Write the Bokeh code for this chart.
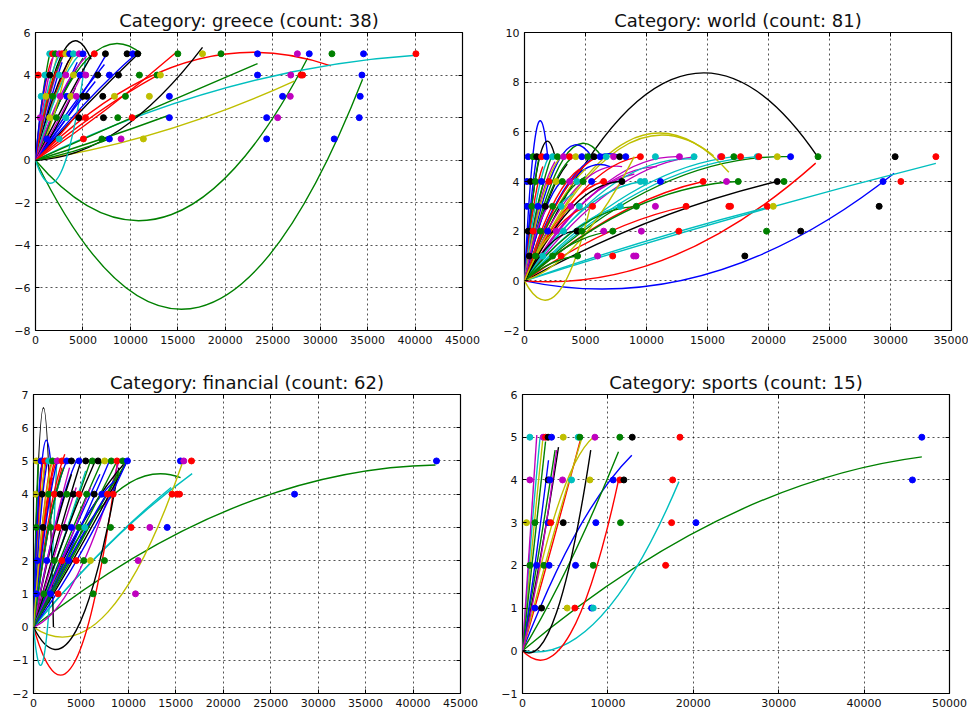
from bokeh.plotting import figure
from bokeh.layouts import column, row
from bokeh.models import LinearAxis, FixedTicker, ColumnDataSource, Range1d
from bokeh.embed import file_html
from bokeh.resources import INLINE

PALETTE = {"b": "#0000ff", "g": "#008000", "r": "#ff0000", "c": "#00bfbf",
           "m": "#bf00bf", "y": "#bfbf00", "k": "#000000"}

# ---------------- greece ----------------
greece_curve_end_x = [34470, 28680, 31130, 40090, 27270, 23400, 17600, 15000, 12880, 10780, 10600, 7500,
                      7265, 5300, 5860, 11130, 14000,
                      1500, 1800, 2000, 2300, 2600, 2800, 3000, 3300, 3500, 3800, 4100, 4400, 4700, 5000,
                      5400, 2200, 3100, 4200, 6300, 6000, 5100, 1200, 4800, 7800]
greece_curve_end_y = [3.8, 4.8, 4.43, 4.93, 3.72, 4.54, 5.3, 5.13, 4.0, 4.98, 5.0, 5.0,
                      4.5, 4.8, 4.74, 5.0, 2.1,
                      5.0, 4.8, 5.1, 4.9, 5.0, 4.6, 5.0, 5.2, 4.7, 4.9, 5.0, 4.6, 5.0, 4.8,
                      4.9, 4.2, 4.0, 3.4, 3.7, 5.0, 4.2, 4.0, 2.4, 1.0]
greece_curve_mid_y = [-6.9, -2.55, 4.55, 3.4, 1.4, 2.3, 1.4, 2.4, 2.2, 2.6, 2.7, 2.3,
                      2.4, -0.6, 5.1, 4.8, 1.0,
                      3.0, 3.2, 3.0, 2.8, 3.3, 2.5, 3.0, 3.4, 2.6, 3.0, 2.9, 2.4, 3.2, 2.7,
                      3.1, 2.6, 1.6, 1.5, 1.9, 2.6, 2.0, 2.5, 1.1, 0.4]
greece_curve_color = "ggrcygkrrkbbbckgg" + "grmycbmgrkybcgmrykbkmbrg"
greece_point_x = [1500, 1800, 2100, 2500, 2800, 3200, 3600, 4000, 4600, 5000, 6200, 7370, 9650, 10250, 10780,
                  15000, 17600, 19550, 23400, 27600, 28850, 31240, 34570, 40090,
                  300, 1000, 1500, 2500, 3200, 4000, 4700, 5300, 6560, 7790, 8740, 10950, 12810, 13160,
                  23400, 26900, 27970, 28150, 34400,
                  600, 1100, 1800, 2600, 3300, 3700, 4300, 5000, 5400, 7090, 8320, 9480, 12000, 14110,
                  26040, 26850, 34220,
                  500, 1500, 2200, 3200, 4560, 5270, 7160, 8670, 10180, 14110, 24360, 25520, 34120,
                  1200, 2500, 5050, 6990, 7790, 9020, 11370, 24360, 31480]
greece_point_y = [5] * 24 + [4] * 19 + [3] * 17 + [2] * 13 + [1] * 9
greece_point_color = ("crgmrybcmbrkkbkgygbmbgbr" + "rckcmybmkbkggybmrrb" + "cygmbymkkkygybbmb"
                      + "mygckrkgrbbmb" + "bcrgbmybb")

# ---------------- world ----------------
world_curve_end_x = [24060, 30300, 23870, 33720, 19900, 20720, 21680, 17160, 16750, 15500, 1900, 6370, 2500,
                     1200, 1600, 800, 2200, 10860, 12700, 9000, 8000, 14100, 8000, 7000, 5500,
                     9500, 6490, 13250, 14640, 5580, 14000, 9850, 7850, 19080, 5000, 4000, 9000, 5400,
                     17500, 9170, 7230, 4350, 4300, 7990,
                     1000, 1500, 2000, 2500, 3000, 3500, 4000, 4500, 3000, 2000, 4000, 5000, 6000, 2600]
world_curve_end_y = [4.97, 4.33, 4.74, 4.73, 2.96, 4.0, 5.0, 5.0, 4.37, 5.04, 5.0, 4.97, 5.0,
                     5.0, 4.0, 3.0, 5.0, 4.6, 5.0, 4.3, 4.6, 5.0, 5.0, 4.6, 5.0,
                     5.0, 4.0, 3.0, 4.0, 3.0, 4.9, 4.0, 3.0, 5.0, 4.5, 3.0, 5.0, 3.0,
                     4.0, 3.0, 2.0, 1.0, 2.0, 4.0,
                     5.0, 4.6, 5.0, 4.8, 5.0, 4.7, 5.0, 4.5, 4.0, 3.0, 3.5, 4.2, 5.0, 2.0]
world_curve_mid_y = [8.1, 0.3, 0.95, 2.5, 1.6, 2.4, 3.8, 3.5, 5.6, 5.3, 6.0, 4.9, 5.0,
                     3.0, 2.4, 2.0, 3.0, 3.4, 3.8, 3.0, 3.6, 3.6, 4.2, 3.8, 4.8,
                     3.6, 2.8, 1.9, 2.6, 2.2, 3.8, 2.9, 2.0, 3.6, 2.8, 2.0, 1.6, -0.5,
                     2.9, 2.2, 1.4, 0.7, 1.5, 3.0,
                     3.0, 3.0, 3.3, 3.1, 3.4, 3.0, 3.4, 3.0, 2.6, 2.0, 2.4, 2.8, 3.4, 1.3]
world_curve_color = ("kbrcckgcyybgk" + "ggggmmmmmbbb" + "rrrrrccccyyyy" + "ggggkk"
                     + "brcmykgrbmcgry")
world_point_x = [300, 700, 1000, 1400, 1800, 2300, 2700, 3200, 3700, 4200, 4700, 5200, 5700, 6200, 6700,
                 7300, 7800, 8300, 9500, 10730, 12700, 13900, 16070, 16170, 17160, 17710, 19080, 19210,
                 20720, 21810, 24060, 30380, 33720,
                 200, 500, 900, 1400, 2000, 2600, 3100, 3700, 4300, 4800, 5500, 6490, 7990, 9500, 9850,
                 11140, 14640, 16560, 17520, 20720, 21270, 29390, 30850,
                 200, 600, 1100, 1700, 2300, 3000, 3800, 4500, 5580, 7850, 9170, 10730, 13250, 16750,
                 16890, 19900, 20390, 29070,
                 300, 700, 1300, 1900, 2600, 3200, 4300, 4700, 6490, 7230, 9580, 12650, 19840, 22640,
                 400, 900, 1500, 2300, 3000, 4350, 5990, 7230, 8950, 9140, 18060]
world_point_y = [5] * 33 + [4] * 23 + [3] * 18 + [2] * 14 + [1] * 11
world_point_color = ("bgkrbcgmrybgkbcmkbrcmcmrgrcrybgkr" + "bkgbrygmcgbrkccbrmgkgbr"
                     + "bgbkgcmcrcgmrrrryk" + "krgbmckgmgmrgk" + "kgcgrgmrmmk")

# ---------------- financial ----------------
fin_curve_end_x = [42370, 15500, 16720, 14500, 15670, 8860, 9000, 2100, 1800, 2450, 9000,
                   9870, 9870, 9870, 9500, 9000, 8500, 7700,
                   1000, 1400, 1800, 2200, 2600, 3000, 3300, 2000, 1600, 1200, 500, 800, 1500, 2500,
                   3500, 4500, 4000, 5000, 6000, 5500, 4500, 3800, 6500, 7200, 7000, 2800, 3200, 6000,
                   8000, 8800, 2000]
fin_curve_end_y = [4.88, 4.5, 4.62, 4.2, 4.92, 5.0, 4.8, 0.0, 5.0, 5.0, 5.0,
                   5.0, 5.0, 5.0, 4.9, 4.7, 4.4, 4.0,
                   5.0, 5.1, 4.9, 5.0, 5.1, 4.8, 5.2, 4.5, 4.0, 5.0, 5.0, 4.8, 5.0, 5.0,
                   5.0, 5.0, 4.6, 5.0, 5.0, 4.7, 4.2, 4.8, 5.0, 5.0, 4.6, 4.4, 4.8, 4.2,
                   5.0, 5.0, 5.0]
fin_curve_mid_y = [3.6, 3.8, 2.6, 2.3, 0.45, -1.0, -0.1, 6.6, 5.0, -0.66, 1.5,
                   2.4, 2.6, 2.2, 2.9, 2.3, 2.7, 2.1,
                   3.2, 3.4, 3.0, 3.1, 3.5, 2.8, 3.3, 2.6, 2.5, 3.0, 3.0, 3.2, 3.3, 3.0,
                   3.2, 3.0, 2.6, 2.6, 2.5, 2.3, 2.2, 2.6, 2.7, 2.6, 2.4, 2.7, 3.0, 2.0,
                   2.4, 2.5, 3.2]
fin_curve_color = ("ggccyrkkbcm" + "kgbkgbb" + "rrrrrrrrrygbbb" + "bbkkgcmmkgbcgm" + "bgy")
fin_point_x = [300, 800, 1200, 1600, 2000, 2500, 3000, 3500, 4000, 4800, 5500, 6200, 6800, 7500, 8200,
               8800, 9400, 9900, 15490, 15840, 16650, 42470,
               200, 900, 1600, 2200, 2800, 3500, 4200, 4800, 5600, 6400, 7200, 7800, 8400, 14610, 15140,
               15390, 27510,
               300, 1000, 1800, 2600, 3300, 4000, 4800, 5400, 8120, 10290, 12260, 14090,
               400, 1400, 2200, 3000, 3700, 4500, 5300, 6000, 7480, 11030,
               300, 1100, 1800, 2600, 6290, 10750]
fin_point_y = [5] * 22 + [4] * 17 + [3] * 12 + [2] * 10 + [1] * 6
fin_point_color = ("ybrcgmrbkbkgkygrgbbmrb" + "ykgrkgkrgkbrrrrrb" + "gkgrkbgcgrmb" + "bbgrbrgygm"
                   + "bgbrgm")

# ---------------- sports ----------------
sports_curve_end_x = [46760, 18320, 11210, 12800, 11240, 7990, 8290, 6740, 6900, 4215, 3820, 3045, 2400,
                      2060, 1675, 2700, 4000]
sports_curve_end_y = [4.54, 3.96, 3.96, 4.58, 4.66, 4.7, 5.0, 4.91, 4.95, 4.77, 4.7, 4.46, 5.0,
                      5.0, 5.05, 4.9, 4.7]
sports_curve_mid_y = [3.1, 0.8, 0.4, 2.8, 2.1, 0.9, 3.4, 2.4, 2.6, 2.2, 2.3, 2.1, 2.6,
                      2.7, 2.5, 2.4, 2.0]
sports_curve_color = "gcrbgkyrykgbycmgm"
sports_point_x = [860, 2420, 2700, 3000, 3400, 4770, 6520, 6720, 8480, 11400, 12850, 18440, 46760,
                  860, 3000, 3200, 4690, 5740, 7890, 10620, 11400, 11870, 17580, 45660,
                  470, 1450, 3000, 3300, 4770, 8590, 11480, 17460, 20310,
                  860, 1640, 2500, 3120, 6210, 8280, 16760,
                  1450, 2230, 5230, 6130, 8090, 8280]
sports_point_y = [5] * 13 + [4] * 11 + [3] * 9 + [2] * 7 + [1] * 6
sports_point_color = "cmrkbycgmgkrb" + "mkbmcybrkrb" + "ygbrkbgrb" + "gbgbbgr" + "bkyrbc"


def minus(v):
    return ("\u2212" + str(abs(v))) if v < 0 else str(v)


def make_panel(title, xr, yr, xticks, yticks, ex, ey, my, ccol, px, py, pcol,
               bl, br, bt, bb, fh):
    p = figure(frame_width=427, frame_height=fh, x_range=Range1d(*xr), y_range=Range1d(*yr),
               output_backend="svg", toolbar_location=None,
               min_border_left=bl, min_border_right=br, min_border_top=bt, min_border_bottom=bb,
               background_fill_color="white", border_fill_color="white")
    p.title.text = title
    p.title.align = "center"
    p.title.text_font = "DejaVu Sans"
    p.title.text_font_size = "18px"
    p.title.text_font_style = "normal"
    p.title.text_color = "#111111"
    p.title.standoff = 4
    p.outline_line_color = "black"
    p.outline_line_width = 1.2
    p.outline_line_alpha = 1.0

    for ax, ticks in ((p.xaxis[0], xticks), (p.yaxis[0], yticks)):
        ax.ticker = FixedTicker(ticks=ticks)
        ax.major_tick_in = 4
        ax.major_tick_out = 0
        ax.minor_tick_line_color = None
        ax.axis_line_color = None
        ax.major_tick_line_color = "black"
        ax.major_label_text_font = "DejaVu Sans"
        ax.major_label_text_font_size = "11px"
        ax.major_label_text_color = "#111111"
        ax.major_label_standoff = 5
        ax.major_label_overrides = {t: minus(t) for t in ticks}
    for ticks, side in ((xticks, "above"), (yticks, "right")):
        ax2 = LinearAxis(ticker=FixedTicker(ticks=ticks), major_tick_in=4, major_tick_out=0,
                         minor_tick_line_color=None, axis_line_color=None,
                         major_label_text_color=None, major_label_text_font_size="1px",
                         major_label_standoff=0)
        p.add_layout(ax2, side)

    p.xgrid.ticker = FixedTicker(ticks=xticks)
    p.ygrid.ticker = FixedTicker(ticks=yticks)
    for g in (p.xgrid[0], p.ygrid[0]):
        g.grid_line_color = "black"
        g.grid_line_dash = "2 3"
        g.grid_line_width = 0.8
        g.grid_line_alpha = 0.85

    src = ColumnDataSource(dict(
        x0=[0] * len(ex), y0=[0] * len(ex), x1=ex, y1=ey,
        cx=[v / 2 for v in ex],
        cy=[2 * m - e / 2 for m, e in zip(my, ey)],
        color=[PALETTE[c] for c in ccol]))
    p.quadratic(x0="x0", y0="y0", x1="x1", y1="y1", cx="cx", cy="cy",
                line_color="color", line_width=1.4, source=src)

    psrc = ColumnDataSource(dict(x=px, y=py, color=[PALETTE[c] for c in pcol]))
    p.scatter(x="x", y="y", size=6, fill_color="color", line_color="color", source=psrc)
    return p


p1 = make_panel("Category: greece (count: 38)", (0, 45000), (-8, 6),
                list(range(0, 45001, 5000)), list(range(-8, 7, 2)),
                greece_curve_end_x, greece_curve_end_y, greece_curve_mid_y, greece_curve_color,
                greece_point_x, greece_point_y, greece_point_color, 35, 22, 32, 28, 298)
p2 = make_panel("Category: world (count: 81)", (0, 35000), (-2, 10),
                list(range(0, 35001, 5000)), list(range(-2, 11, 2)),
                world_curve_end_x, world_curve_end_y, world_curve_mid_y, world_curve_color,
                world_point_x, world_point_y, world_point_color, 40, 17, 32, 28, 298)
p3 = make_panel("Category: financial (count: 62)", (0, 45000), (-2, 7),
                list(range(0, 45001, 5000)), list(range(-2, 8, 1)),
                fin_curve_end_x, fin_curve_end_y, fin_curve_mid_y, fin_curve_color,
                fin_point_x, fin_point_y, fin_point_color, 33, 24, 36, 23, 299)
p4 = make_panel("Category: sports (count: 15)", (0, 50000), (-1, 6),
                list(range(0, 50001, 10000)), list(range(-1, 7, 1)),
                sports_curve_end_x, sports_curve_end_y, sports_curve_mid_y, sports_curve_color,
                sports_point_x, sports_point_y, sports_point_color, 38, 19, 36, 23, 299)

layout = column(row(p1, p2), row(p3, p4))
open("out.html", "w").write(file_html(layout, INLINE))
